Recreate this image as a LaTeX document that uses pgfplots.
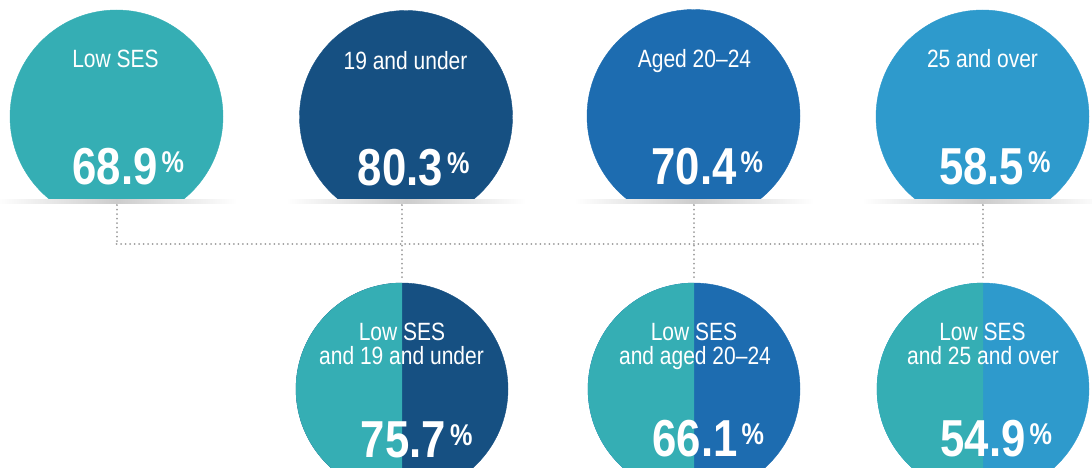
\documentclass[border=0pt]{standalone}
\usepackage{pgfplots}
\pgfplotsset{compat=1.18}
\usepackage{fontspec}
\setmainfont{Liberation Sans}[FakeStretch=0.84]
\newfontfamily\numfont{Liberation Sans}[FakeStretch=0.84]
\definecolor{cTeal}{HTML}{35AEB4}
\definecolor{cDark}{HTML}{165082}
\definecolor{cMid}{HTML}{1D6CB0}
\definecolor{cLight}{HTML}{2E9ACC}
\definecolor{cDot}{HTML}{9C9C9C}
\newcommand{\lab}[1]{{\fontsize{25}{24}\selectfont #1}}
\newcommand{\bignum}[1]{{\numfont\bfseries\fontsize{52}{52}\selectfont #1}\rlap{\kern4pt\raisebox{12pt}{\numfont\bfseries\fontsize{30}{30}\selectfont\%}}}
\begin{document}
\begin{tikzpicture}
\begin{axis}[
  width=1092pt, height=468pt, scale only axis,
  xmin=0, xmax=1092, ymin=0, ymax=468, y dir=reverse,
  hide axis, clip marker paths=true,
  point meta=explicit symbolic,
]
% top circles
\addplot[only marks, mark=*, mark size=106.5pt, mark options={fill=cTeal,draw=cTeal}] coordinates {(116.5,116.5)};
\addplot[only marks, mark=*, mark size=106.5pt, mark options={fill=cDark,draw=cDark}] coordinates {(406,117)};
\addplot[only marks, mark=*, mark size=106.5pt, mark options={fill=cMid,draw=cMid}] coordinates {(693.5,116)};
\addplot[only marks, mark=*, mark size=106.5pt, mark options={fill=cLight,draw=cLight}] coordinates {(982.5,116.5)};
% flat cut
\fill[white] (axis cs:0,199.5) rectangle (axis cs:1092,232);
% shadows
\shade[left color=white, right color=white, middle color=black!20] (axis cs:-4,199.5) rectangle (axis cs:237,203);
\shade[left color=white, right color=white, middle color=black!20] (axis cs:286,199.5) rectangle (axis cs:526,203);
\shade[left color=white, right color=white, middle color=black!20] (axis cs:574,199.5) rectangle (axis cs:814,203);
\shade[left color=white, right color=white, middle color=black!20] (axis cs:862,199.5) rectangle (axis cs:1102,203);
% dotted connectors
\begin{scope}[cDot, line width=2pt, line cap=round, dash pattern=on 0.01pt off 4.5pt]
\draw (axis cs:116.5,205) -- (axis cs:116.5,244);
\draw (axis cs:116.5,244) -- (axis cs:983,244);
\draw (axis cs:402,205) -- (axis cs:402,281);
\draw (axis cs:694,205) -- (axis cs:694,281);
\draw (axis cs:983,205) -- (axis cs:983,281);
\end{scope}
% bottom circles
\addplot[only marks, mark=*, mark size=106pt, mark options={fill=cDark,draw=cDark}] coordinates {(402,389)};
\addplot[only marks, mark=*, mark size=106pt, mark options={fill=cMid,draw=cMid}] coordinates {(694,389)};
\addplot[only marks, mark=*, mark size=106pt, mark options={fill=cLight,draw=cLight}] coordinates {(983,389)};
\fill[cTeal] (axis cs:402,282.8) arc[start angle=90, end angle=270, radius=106.2pt] -- cycle;
\fill[cTeal] (axis cs:694,282.8) arc[start angle=90, end angle=270, radius=106.2pt] -- cycle;
\fill[cTeal] (axis cs:983,282.8) arc[start angle=90, end angle=270, radius=106.2pt] -- cycle;
% percentages
\addplot[draw=none, mark=none, nodes near coords={\bignum{\pgfplotspointmeta}},
  every node near coord/.append style={anchor=base, text=white, inner sep=0pt}]
  coordinates {(115,184)[68.9] (400.5,185)[80.3] (694,184)[70.4] (981.5,184)[58.5]
               (403.5,457)[75.7] (695,456.5)[66.1] (983,456.5)[54.9]};
% labels
\addplot[draw=none, mark=none, nodes near coords={\lab{\pgfplotspointmeta}},
  every node near coord/.append style={anchor=base, text=white, inner sep=0pt}]
  coordinates {(115.5,68)[Low SES] (405.5,70)[19 and under] (694.5,68)[Aged 20–24] (982.5,68)[25 and over]
               (402,340)[Low SES] (401.5,364)[and 19 and under]
               (694,340)[Low SES] (695,364)[and aged 20–24]
               (982.5,340)[Low SES] (983,364)[and 25 and over]};
\end{axis}
\pgfresetboundingbox
\path[use as bounding box] (0,0) rectangle (1092pt,468pt);
\end{tikzpicture}
\end{document}
